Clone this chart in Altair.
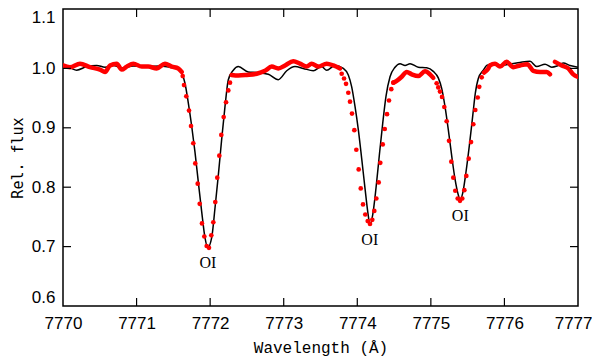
import altair as alt
import pandas as pd

# ---- model spectrum (black line) ----
model_wl = [7770.00, 7770.095, 7770.186, 7770.322, 7770.458, 7770.571, 7770.684, 7770.798, 7770.956,
            7771.138, 7771.318, 7771.454, 7771.567, 7771.658, 7771.703, 7771.749, 7771.794, 7771.839,
            7771.885, 7771.930, 7771.967, 7772.021, 7772.066, 7772.111, 7772.157, 7772.202, 7772.247,
            7772.315, 7772.383, 7772.519, 7772.633, 7772.791, 7772.926, 7773.041, 7773.153, 7773.266,
            7773.402, 7773.516, 7773.584, 7773.697, 7773.810, 7773.878, 7773.924, 7773.969, 7774.014,
            7774.060, 7774.105, 7774.142, 7774.173, 7774.210, 7774.254, 7774.299, 7774.346, 7774.390,
            7774.445, 7774.513, 7774.581, 7774.649, 7774.717, 7774.829, 7774.944, 7775.033, 7775.101,
            7775.148, 7775.192, 7775.237, 7775.283, 7775.328, 7775.373, 7775.396, 7775.433, 7775.478,
            7775.523, 7775.569, 7775.604, 7775.645, 7775.713, 7775.759, 7775.849, 7775.940, 7776.076,
            7776.212, 7776.348, 7776.439, 7776.552, 7776.643, 7776.715, 7776.800, 7776.891, 7777.000]
model_flux = [1.004, 1.001, 0.997, 1.003, 1.005, 1.002, 1.005, 1.001, 1.004,
              1.003, 1.004, 1.002, 1.000, 0.975, 0.942, 0.903, 0.859, 0.809,
              0.759, 0.715, 0.698, 0.715, 0.765, 0.820, 0.881, 0.936, 0.981,
              0.997, 1.003, 0.994, 0.993, 0.990, 0.981, 0.996, 1.003, 1.000,
              0.996, 1.003, 0.997, 1.005, 1.000, 0.989, 0.969, 0.936, 0.897,
              0.848, 0.798, 0.759, 0.737, 0.754, 0.798, 0.853, 0.908, 0.953,
              0.986, 1.002, 1.008, 1.005, 1.008, 1.002, 1.001, 0.995, 0.984,
              0.966, 0.936, 0.897, 0.853, 0.814, 0.787, 0.779, 0.790, 0.826,
              0.870, 0.920, 0.958, 0.983, 0.997, 1.005, 1.008, 1.005, 1.007,
              1.010, 1.012, 1.003, 1.007, 1.002, 1.004, 1.009, 1.005, 1.002]

# ---- observed spectrum: continuum stretches (dense dots forming a band) ----
band_wl = [7770.00, 7770.095, 7770.231, 7770.367, 7770.503, 7770.571, 7770.639, 7770.730, 7770.798,
           7770.866, 7770.956, 7771.070, 7771.159, 7771.274, 7771.386, 7771.478, 7771.567, 7771.613,
           7772.293, 7772.383, 7772.497, 7772.633, 7772.746, 7772.837, 7772.926, 7773.018, 7773.130,
           7773.221, 7773.312, 7773.380, 7773.470, 7773.584, 7773.674, 7773.765,
           7774.490, 7774.536, 7774.604, 7774.672, 7774.740, 7774.829, 7774.920, 7774.988, 7775.033,
           7775.722, 7775.781, 7775.804, 7775.872, 7775.940, 7776.031, 7776.121, 7776.212, 7776.311,
           7776.393, 7776.484, 7776.575, 7776.619,
           7776.687, 7776.779, 7776.868, 7776.936, 7776.993]
band_flux = [1.005, 1.002, 1.008, 1.002, 0.998, 0.994, 1.005, 1.008, 0.998,
             1.003, 1.008, 1.003, 1.003, 1.000, 1.008, 1.003, 1.000, 0.994,
             0.989, 0.988, 0.989, 0.991, 0.996, 1.003, 1.000, 1.005, 1.012,
             1.008, 1.003, 1.008, 1.003, 1.008, 1.005, 1.000,
             0.976, 0.979, 0.986, 0.994, 0.990, 0.987, 0.995, 0.990, 0.984,
             0.993, 1.000, 1.005, 1.008, 1.003, 1.011, 1.002, 1.005, 1.007,
             0.996, 0.994, 0.994, 0.990,
             1.011, 1.005, 1.000, 0.990, 0.986]
band_seg = ([1] * 18 + [2] * 16 + [3] * 9 + [4] * 13 + [5] * 5)

# ---- observed spectrum: separate dots in the line profiles ----
dot_wl = [7771.627, 7771.645, 7771.676, 7771.713, 7771.740, 7771.771, 7771.798, 7771.831, 7771.858,
          7771.889, 7771.921, 7771.953, 7771.984, 7772.016, 7772.043, 7772.070, 7772.097, 7772.125,
          7772.152, 7772.184, 7772.216, 7772.247, 7772.270,
          7773.788, 7773.820, 7773.847, 7773.878, 7773.901, 7773.928, 7773.960, 7773.987, 7774.019,
          7774.047, 7774.078, 7774.109, 7774.142, 7774.173, 7774.204, 7774.231, 7774.259, 7774.291,
          7774.313, 7774.346, 7774.373, 7774.404, 7774.431, 7774.462, 7774.490,
          7775.079, 7775.101, 7775.124, 7775.152, 7775.183, 7775.215, 7775.247, 7775.278, 7775.305,
          7775.332, 7775.365, 7775.396, 7775.427, 7775.455, 7775.482, 7775.514, 7775.546, 7775.577,
          7775.604, 7775.637, 7775.658, 7775.691]
dot_flux = [0.987, 0.972, 0.953, 0.929, 0.903, 0.874, 0.840, 0.806, 0.772,
            0.739, 0.717, 0.701, 0.698, 0.719, 0.741, 0.775, 0.816, 0.853,
            0.888, 0.918, 0.943, 0.963, 0.976,
            0.991, 0.983, 0.974, 0.959, 0.944, 0.924, 0.896, 0.863, 0.830,
            0.798, 0.771, 0.754, 0.743, 0.738, 0.745, 0.760, 0.781, 0.808,
            0.841, 0.872, 0.898, 0.923, 0.946, 0.965, 0.976,
            0.975, 0.968, 0.961, 0.952, 0.935, 0.911, 0.878, 0.843, 0.816,
            0.794, 0.781, 0.777, 0.781, 0.795, 0.819, 0.848, 0.876, 0.906,
            0.930, 0.951, 0.969, 0.985]

# ---- line identifications ----
line_wl = [7771.97, 7774.17, 7775.40]
line_depth = [0.698, 0.737, 0.777]
line_label = ["OI", "OI", "OI"]

# ---- axes ----
x_ticks = [7770, 7771, 7772, 7773, 7774, 7775, 7776, 7777]
y_ticks = [0.6, 0.7, 0.8, 0.9, 1.0, 1.1]
x_inner = [7771, 7772, 7773, 7774, 7775, 7776]
y_inner = [0.7, 0.8, 0.9, 1.0]

W, H = 515, 297
TICK = 8

df_model = pd.DataFrame({"wl": model_wl, "flux": model_flux})
df_band = pd.DataFrame({"wl": band_wl, "flux": band_flux, "seg": band_seg})
df_dot = pd.DataFrame({"wl": dot_wl, "flux": dot_flux})
df_lab = pd.DataFrame({"wl": line_wl, "flux": line_depth, "label": line_label})
df_xt = pd.DataFrame({"wl": x_inner})
df_yt = pd.DataFrame({"flux": y_inner})

xs = alt.Scale(domain=[7770, 7777], nice=False, zero=False)
ys = alt.Scale(domain=[0.6, 1.1], nice=False, zero=False)

x_axis = alt.Axis(values=x_ticks, format="d", title="Wavelength (Å)", labelFlush=False,
                  labelOverlap=False,
                  labelAlign={"condition": {"test": "datum.value == 7777", "value": "right"},
                              "value": "center"},
                  labelOffset={"condition": {"test": "datum.value == 7777", "value": 14},
                               "value": 0},
                  labelPadding=9, titlePadding=8, titleFont="Liberation Mono", titleFontSize=16,
                  titleFontWeight="normal")
y_axis = alt.Axis(values=y_ticks, format=".1f", title="Rel. flux", labelFlush=True,
                  labelOverlap=False,
                  labelPadding=8, titlePadding=6, titleFont="DejaVu Sans Mono", titleFontSize=15,
                  titleFontWeight="normal")

X = alt.X("wl:Q", scale=xs, axis=x_axis, title="Wavelength (Å)")
Y = alt.Y("flux:Q", scale=ys, axis=y_axis, title="Rel. flux")

model = alt.Chart(df_model).mark_line(color="black", strokeWidth=1.5, interpolate="monotone", clip=True).encode(
    x=X, y=Y)

band = alt.Chart(df_band).mark_line(color="#ff0000", strokeWidth=4.5, strokeCap="round", strokeJoin="round",
                                    interpolate="monotone", clip=True).encode(
    x=X, y=Y, detail="seg:N")

dots = alt.Chart(df_dot).mark_circle(color="#ff0000", size=22, opacity=1, clip=True).encode(x=X, y=Y)

labels = alt.Chart(df_lab).mark_text(font="Liberation Serif", fontSize=16, baseline="middle", dy=15,
                                     color="black").encode(x=X, y=Y, text="label:N")

tick_bottom = alt.Chart(df_xt).mark_rule(color="black", strokeWidth=1.2).encode(
    x=X, y=alt.value(H), y2=alt.value(H - TICK))
tick_top = alt.Chart(df_xt).mark_rule(color="black", strokeWidth=1.2).encode(
    x=X, y=alt.value(0), y2=alt.value(TICK))
tick_left = alt.Chart(df_yt).mark_rule(color="black", strokeWidth=1.2).encode(
    y=Y, x=alt.value(0), x2=alt.value(TICK))
tick_right = alt.Chart(df_yt).mark_rule(color="black", strokeWidth=1.2).encode(
    y=Y, x=alt.value(W), x2=alt.value(W - TICK))

chart = alt.layer(model, band, dots, labels, tick_bottom, tick_top, tick_left, tick_right).properties(
    width=W, height=H,
    autosize=alt.AutoSizeParams(type="none"),
    padding={"left": 55, "top": 1, "right": 14, "bottom": 52},
).configure_view(
    stroke="black", strokeWidth=1.5
).configure_axis(
    grid=False, domain=False, ticks=False, tickSize=0,
    labelFont="Liberation Sans", labelFontSize=17, labelColor="black",
    titleColor="black",
)

chart.save("out.html", embed_options={"renderer": "svg", "actions": False})
